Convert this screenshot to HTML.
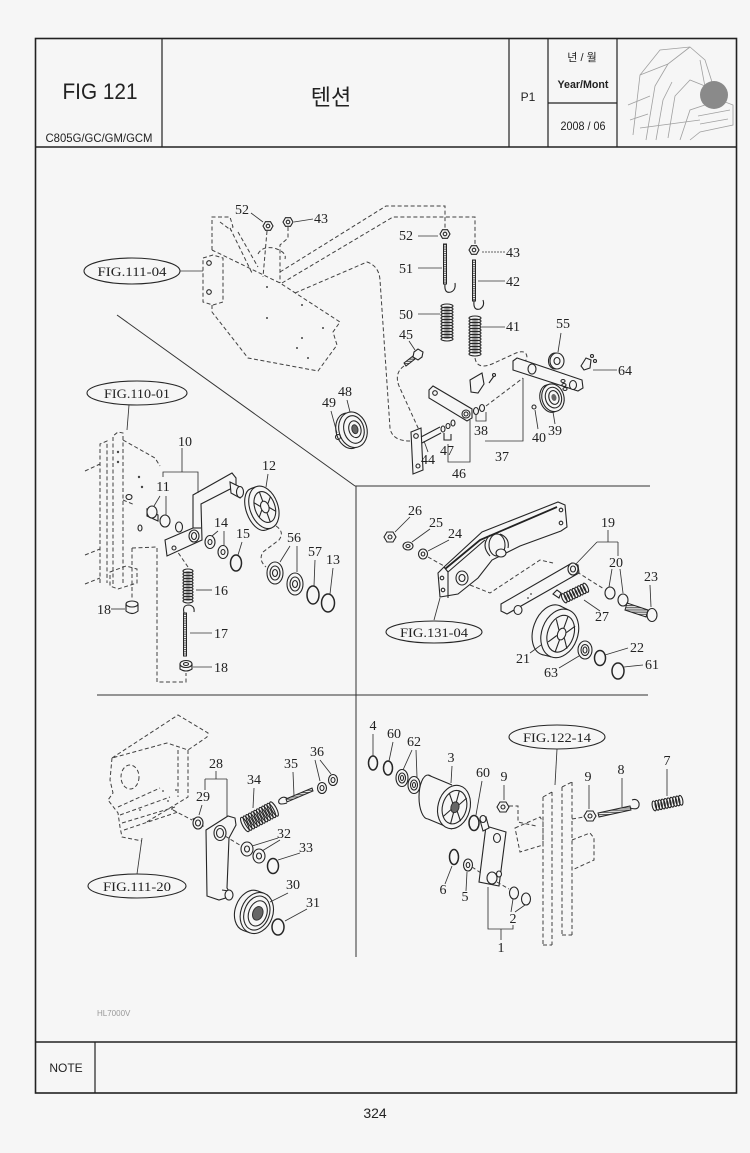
<!DOCTYPE html>
<html><head><meta charset="utf-8">
<style>
html,body{margin:0;padding:0;background:#f6f6f6;}
svg{display:block}
.s{fill:none;stroke:#262626;stroke-width:1.1}
.d{fill:none;stroke:#404040;stroke-width:1;stroke-dasharray:4 2.5}
.l{fill:none;stroke:#333;stroke-width:0.85}
.f{fill:#f6f6f6;stroke:#262626;stroke-width:1.1}
.r{fill:none;stroke:#262626;stroke-width:1.5}
.th{fill:url(#th);stroke:#262626;stroke-width:1}
.t{font-family:"Liberation Serif",serif;font-size:14px;fill:#222;text-anchor:middle}
.fg{font-family:"Liberation Serif",serif;font-size:13px;fill:#222;text-anchor:middle}
.h{font-family:"Liberation Sans","Noto Sans CJK KR",sans-serif;fill:#222;text-anchor:middle}
</style></head><body>
<svg width="750" height="1153" viewBox="0 0 750 1153" xmlns="http://www.w3.org/2000/svg">
<defs>
<pattern id="th" width="2.2" height="2.2" patternUnits="userSpaceOnUse"><rect width="2.2" height="2.2" fill="#f6f6f6"/><rect width="2.2" height="1.1" fill="#555"/></pattern>
</defs>
<rect x="0" y="0" width="750" height="1153" fill="#f6f6f6"/>

<!-- FRAME -->
<g stroke="#222" fill="none">
<rect x="35.5" y="38.5" width="701" height="1054.5" stroke-width="1.6"/>
<line x1="35" y1="147" x2="737" y2="147" stroke-width="1.4"/>
<line x1="162" y1="38" x2="162" y2="147" stroke-width="1.2"/>
<line x1="509" y1="38" x2="509" y2="147" stroke-width="1.2"/>
<line x1="548" y1="38" x2="548" y2="147" stroke-width="1.2"/>
<line x1="617" y1="38" x2="617" y2="147" stroke-width="1.2"/>
<line x1="548" y1="103" x2="617" y2="103" stroke-width="1.2"/>
<line x1="35" y1="1042" x2="737" y2="1042" stroke-width="1.4"/>
<line x1="95" y1="1042" x2="95" y2="1093" stroke-width="1.2"/>
</g>

<!-- HEADER TEXT -->
<text x="100" y="99" class="h" font-size="22" textLength="75" lengthAdjust="spacingAndGlyphs">FIG 121</text>
<text x="99" y="142" class="h" font-size="12" textLength="107" lengthAdjust="spacingAndGlyphs">C805G/GC/GM/GCM</text>
<text x="331" y="105" class="h" font-size="22">텐션</text>
<text x="528" y="101" class="h" font-size="12">P1</text>
<text x="582" y="61" class="h" font-size="11">년 / 월</text>
<text x="583" y="88" class="h" font-size="11" font-weight="bold" textLength="51" lengthAdjust="spacingAndGlyphs">Year/Mont</text>
<text x="583" y="130" class="h" font-size="12" textLength="45" lengthAdjust="spacingAndGlyphs">2008 / 06</text>
<text x="66" y="1072" class="h" font-size="12">NOTE</text>
<text x="375" y="1118" class="h" font-size="14">324</text>
<text x="97" y="1016" font-family="Liberation Sans,sans-serif" font-size="8" fill="#999">HL7000V</text>

<!-- thumbnail -->
<g stroke="#a0a0a0" stroke-width="0.8" fill="none">
<path d="M633,135 L640,75 L660,50 L690,47 L705,60 L712,82"/>
<path d="M640,75 L668,64 L690,47"/>
<path d="M646,140 L655,86 L668,64"/>
<path d="M656,140 L663,100 L672,82"/>
<path d="M668,138 L675,96 L690,80 L705,86"/>
<path d="M680,140 L690,110 L720,100 L733,105 L733,125 L700,132 L690,140"/>
<path d="M698,116 L730,110 M700,124 L728,119"/>
<path d="M628,105 L650,96 M630,120 L648,114"/>
<path d="M700,60 L706,92"/>
<path d="M640,128 L700,120"/>
</g>
<circle cx="714" cy="95" r="14" fill="#8a8a8a"/>

<!-- DIVIDERS -->
<g stroke="#333" stroke-width="1" fill="none">
<line x1="117" y1="315" x2="355" y2="486"/>
<line x1="355" y1="486" x2="650" y2="486"/>
<line x1="356" y1="486" x2="356" y2="957"/>
<line x1="97" y1="695" x2="648" y2="695"/>
</g>

<!-- ===== TOP SECTION ===== -->
<ellipse cx="132" cy="271" rx="48" ry="13" class="s"/>
<text x="132" y="276" class="fg" textLength="69" lengthAdjust="spacingAndGlyphs">FIG.111-04</text>
<path class="l" d="M180,271 L203,271"/>
<path class="d" d="M212,250 L212,217 L230,217 L233,227 L230,228"/>
<path class="d" d="M230,228 L252,273 M238,232 L258,267 M220,222 L232,231"/>
<path class="d" d="M203,258 L213,255 L223,258 L223,302 L213,305 L203,302 Z"/>
<circle cx="209" cy="263" r="2.3" class="s"/><circle cx="209" cy="292" r="2.3" class="s"/>
<path class="d" d="M212,305 L212,312 L248,358 L318,371 L337,345 L333,332 L340,322 L280,283 L212,250"/>
<path class="d" d="M258,254 Q262,246 274,248 Q287,252 285,259"/>
<g fill="#444"><circle cx="267" cy="287" r="1"/><circle cx="302" cy="305" r="1"/><circle cx="267" cy="318" r="1"/><circle cx="323" cy="328" r="1"/><circle cx="302" cy="338" r="1"/><circle cx="297" cy="348" r="1"/><circle cx="308" cy="358" r="1"/></g>
<polygon class="f" points="263,226 265.5,221.7 270.5,221.7 273,226 270.5,230.3 265.5,230.3"/><circle cx="268" cy="226" r="1.8" class="s"/>
<path class="d" d="M267,231 L263,277"/>
<polygon class="f" points="283,222 285.5,217.7 290.5,217.7 293,222 290.5,226.3 285.5,226.3"/><circle cx="288" cy="222" r="1.8" class="s"/>
<path class="d" d="M288,227 L288,238 L280,245 L280,283"/>
<path class="l" d="M251,213 L263,222 M313,219 L294,222"/>
<text x="242" y="214" class="t">52</text>
<text x="321" y="223" class="t">43</text>
<path class="d" d="M280,272 L386,206 L445,206 L445,228"/>
<path class="d" d="M282,283 L393,217 L475,217 L475,244"/>
<path class="d" d="M295,293 L367,262 Q379,266 380,280 L390,428 Q392,441 410,441"/>
<polygon class="f" points="440,234 442.5,229.7 447.5,229.7 450,234 447.5,238.3 442.5,238.3"/><circle cx="445" cy="234" r="1.8" class="s"/>
<path class="l" d="M418,236 L438,236"/><text x="406" y="240" class="t">52</text>
<rect x="443.5" y="244" width="3" height="40" class="th"/>
<path class="s" d="M445,284 Q444,294 451,292 Q456,290 455,283"/>
<path class="l" d="M418,268 L442,268"/><text x="406" y="273" class="t">51</text>
<g class="s">
<ellipse cx="447" cy="306" rx="6" ry="2"/><ellipse cx="447" cy="309" rx="6" ry="2"/><ellipse cx="447" cy="312" rx="6" ry="2"/><ellipse cx="447" cy="315" rx="6" ry="2"/><ellipse cx="447" cy="318" rx="6" ry="2"/><ellipse cx="447" cy="321" rx="6" ry="2"/><ellipse cx="447" cy="324" rx="6" ry="2"/><ellipse cx="447" cy="327" rx="6" ry="2"/><ellipse cx="447" cy="330" rx="6" ry="2"/><ellipse cx="447" cy="333" rx="6" ry="2"/><ellipse cx="447" cy="336" rx="6" ry="2"/><ellipse cx="447" cy="339" rx="6" ry="2"/>
</g>
<path class="l" d="M418,314 L440,314"/><text x="406" y="319" class="t">50</text>
<polygon class="f" points="469,250 471.5,245.7 476.5,245.7 479,250 476.5,254.3 471.5,254.3"/><circle cx="474" cy="250" r="1.8" class="s"/>
<path class="l" d="M482,252 L505,252" stroke-dasharray="2 1"/><text x="513" y="257" class="t">43</text>
<rect x="472.5" y="260" width="3" height="41" class="th"/>
<path class="s" d="M474,301 Q473,311 480,309 Q485,306 483,300"/>
<path class="l" d="M478,281 L505,281"/><text x="513" y="286" class="t">42</text>
<g class="s">
<ellipse cx="475" cy="318" rx="6" ry="2"/><ellipse cx="475" cy="321" rx="6" ry="2"/><ellipse cx="475" cy="324" rx="6" ry="2"/><ellipse cx="475" cy="327" rx="6" ry="2"/><ellipse cx="475" cy="330" rx="6" ry="2"/><ellipse cx="475" cy="333" rx="6" ry="2"/><ellipse cx="475" cy="336" rx="6" ry="2"/><ellipse cx="475" cy="339" rx="6" ry="2"/><ellipse cx="475" cy="342" rx="6" ry="2"/><ellipse cx="475" cy="345" rx="6" ry="2"/><ellipse cx="475" cy="348" rx="6" ry="2"/><ellipse cx="475" cy="351" rx="6" ry="2"/><ellipse cx="475" cy="354" rx="6" ry="2"/>
</g>
<path class="l" d="M482,327 L505,327"/><text x="513" y="331" class="t">41</text>
<path class="d" d="M475,358 Q477,370 492,364 L516,353 Q527,349 527,358 L523,366"/>
<polygon class="th" points="404,363 413,356 415,359 406,366"/>
<polygon class="f" points="414,352 418,349 423,352 422,357 418,360 413,357"/>
<path class="l" d="M409,341 L415,350"/><text x="406" y="339" class="t">45</text>
<path class="d" d="M404,366 Q394,373 399,386 L419,430"/>
<g transform="translate(352,430) rotate(-15)">
<ellipse cx="-3" cy="0" rx="13" ry="18" class="f"/>
<ellipse cx="1" cy="0" rx="14" ry="18" class="f"/>
<ellipse cx="2" cy="0" rx="10" ry="14" class="s"/>
<ellipse cx="3" cy="0" rx="6" ry="8.5" class="s"/>
<ellipse cx="3" cy="0" rx="3" ry="4.5" fill="#666" stroke="#333"/>
</g>
<circle cx="338" cy="437" r="2.5" class="s"/>
<path class="l" d="M347,400 L350,412 M331,411 L337,433"/>
<text x="345" y="396" class="t">48</text><text x="329" y="407" class="t">49</text>
<polygon class="f" points="411,432 421,428 423,470 413,474"/>
<circle cx="416" cy="436" r="2.3" class="s"/><circle cx="418" cy="466" r="2" class="s"/>
<path class="s" d="M421,437 L440,427 M422,443 L441,433"/>
<ellipse cx="443" cy="429" rx="2" ry="3" class="f"/><ellipse cx="448" cy="426" rx="2" ry="2.5" class="f"/><ellipse cx="453" cy="423" rx="2" ry="3" class="f"/>
<path class="s" d="M444,433 L444,440 L451,440 L451,434"/>
<path class="l" d="M424,441 L428,452"/><text x="428" y="464" class="t">44</text>
<text x="447" y="455" class="t">47</text>
<path class="l" d="M448,444 L448,462 L470,462 L470,420"/><text x="459" y="478" class="t">46</text>
<polygon class="f" points="429,390 433,386 472,409 472,418 467,421 429,398"/>
<circle cx="435" cy="393" r="2.3" class="s"/><circle cx="466" cy="414" r="4" class="f"/><circle cx="466" cy="414" r="2" class="s"/>
<ellipse cx="476" cy="411" rx="2.5" ry="3.5" class="f"/><ellipse cx="482" cy="408" rx="2.5" ry="3.5" class="f"/>
<path class="l" d="M476,415 L476,421 L486,421 L486,412"/><text x="481" y="435" class="t">38</text>
<path class="d" d="M486,406 L523,378"/>
<polygon class="f" points="470,380 482,373 484,384 478,393 471,392"/>
<path class="s" d="M489,383 L494,376"/><circle cx="494" cy="375" r="1.5" class="s"/>
<polygon class="f" points="513,361 517,358 582,380 583,388 578,391 513,370"/>
<ellipse cx="532" cy="369" rx="4" ry="5" class="f"/><ellipse cx="573" cy="385" rx="3.5" ry="4.5" class="f"/>
<ellipse cx="563" cy="381" rx="2" ry="1.5" class="s"/><ellipse cx="564" cy="385" rx="2" ry="1.5" class="s"/><ellipse cx="565" cy="389" rx="2" ry="1.5" class="s"/>
<path class="l" d="M523,378 L523,441 L485,441"/><text x="502" y="461" class="t">37</text>
<ellipse cx="555" cy="361" rx="6.5" ry="8" class="f"/><ellipse cx="557" cy="361" rx="7" ry="8" class="f"/><ellipse cx="557" cy="361" rx="3" ry="3.5" class="s"/>
<path class="l" d="M561,333 L558,352"/><text x="563" y="328" class="t">55</text>
<path class="f" d="M581,366 L586,358 L591,360 L590,368 L584,370 Z"/><circle cx="592" cy="356" r="1.5" class="s"/><circle cx="595" cy="361" r="1.5" class="s"/>
<path class="l" d="M593,370 L617,370"/><text x="625" y="375" class="t">64</text>
<g transform="translate(552,398) rotate(-15)">
<ellipse cx="-2" cy="0" rx="10" ry="14" class="f"/>
<ellipse cx="1" cy="0" rx="11" ry="14" class="f"/>
<ellipse cx="1.5" cy="0" rx="8" ry="10.5" class="s"/>
<ellipse cx="2" cy="0" rx="5" ry="7" class="s"/>
<ellipse cx="2" cy="0" rx="2.5" ry="3.5" fill="#666"/>
</g>
<path class="l" d="M555,424 L553,412"/><text x="555" y="435" class="t">39</text>
<circle cx="534" cy="407" r="2" class="s"/>
<path class="l" d="M538,429 L535,410"/><text x="539" y="442" class="t">40</text>

<!-- ===== LEFT MIDDLE ===== -->
<ellipse cx="137" cy="393" rx="50" ry="12" class="s"/>
<text x="137" y="398" class="fg" textLength="66" lengthAdjust="spacingAndGlyphs">FIG.110-01</text>
<path class="l" d="M129,405 L127,430"/>
<path class="d" d="M100,583 L100,444 L107,441 L107,583 M113,584 L113,436 L118,432 L123,433 L123,583"/>
<path class="d" d="M123,440 L155,458 L160,466 M85,471 L100,464 M85,555 L100,549 M85,584 L100,578 M123,500 L135,505"/>
<g fill="#444"><circle cx="118" cy="452" r="1.2"/><circle cx="118" cy="462" r="1.2"/><circle cx="139" cy="477" r="1.2"/><circle cx="142" cy="487" r="1.2"/></g>
<ellipse cx="129" cy="497" rx="3" ry="2.5" class="s"/><ellipse cx="140" cy="528" rx="2" ry="3" class="s"/>
<path class="d" d="M110,572 L126,566 L137,569 L137,583 L118,589 L110,586 Z"/>
<path class="d" d="M132,548 L132,600 M132,548 L157,547 L157,682 L186,682 L186,673"/>
<ellipse cx="132" cy="604" rx="6" ry="3" class="f"/>
<path class="s" d="M126,604 L126,611 Q132,616 138,611 L138,604"/>
<path class="l" d="M111,609 L125,609"/><text x="104" y="614" class="t">18</text>
<polygon class="f" points="165,540 193,528 193,495 232,473 236,478 236,486 201,504 202,540 167,556"/>
<path class="s" d="M193,528 L201,528"/>
<ellipse cx="194" cy="536" rx="5" ry="6" class="f"/><ellipse cx="194" cy="536" rx="2.5" ry="3.5" class="s"/>
<circle cx="174" cy="548" r="2" class="s"/>
<path class="f" d="M230,482 L240,487 L240,498 L231,493 Z"/>
<ellipse cx="240" cy="492" rx="3.5" ry="5.5" class="f"/>
<ellipse cx="179" cy="527" rx="3.5" ry="5" class="f"/>
<path class="s" d="M147,509 L158,515 L158,521 L147,516 Z"/>
<ellipse cx="152" cy="512" rx="5" ry="6" class="f"/>
<ellipse cx="165" cy="521" rx="5" ry="6" class="f"/>
<path class="l" d="M163,477 L163,472 L198,472 L198,493 M182,448 L182,472"/>
<text x="185" y="446" class="t">10</text>
<path class="l" d="M160,496 L154,506 M166,496 L166,515"/><text x="163" y="491" class="t">11</text>
<g transform="translate(262,508) rotate(-20)">
<ellipse cx="-4" cy="0" rx="12" ry="22" class="f"/>
<path d="M-4,-22 L2,-22 L2,22 L-4,22 Z" fill="#f6f6f6"/>
<path class="s" d="M-4,-22 L2,-22 M-4,22 L2,22"/>
<ellipse cx="2" cy="0" rx="14" ry="22" class="f"/>
<ellipse cx="3" cy="0" rx="10" ry="16" class="s"/>
<ellipse cx="3" cy="0" rx="4" ry="6" class="s"/>
<path class="s" d="M3,-6 L3,-16 M3,6 L3,16 M7,-2 L12,-8 M7,2 L12,8 M-1,-2 L-6,-8 M-1,2 L-6,8"/>
</g>
<path class="l" d="M268,474 L266,487"/><text x="269" y="470" class="t">12</text>
<ellipse cx="210" cy="542" rx="5" ry="6.5" class="f"/><ellipse cx="210" cy="542" rx="2" ry="2.5" class="s"/>
<ellipse cx="223" cy="552" rx="5" ry="6.5" class="f"/><ellipse cx="223" cy="552" rx="2" ry="2.5" class="s"/>
<path class="l" d="M218,531 L212,536 M224,531 L224,545"/><text x="221" y="527" class="t">14</text>
<ellipse cx="236" cy="563" rx="5.5" ry="8" class="r"/>
<path class="l" d="M242,542 L238,555"/><text x="243" y="538" class="t">15</text>
<path class="d" d="M276,526 Q285,532 279,540 L263,552 Q258,560 266,567"/>
<ellipse cx="275" cy="573" rx="8" ry="11" class="f"/><ellipse cx="275" cy="573" rx="5" ry="7" class="s"/><ellipse cx="275" cy="573" rx="2.5" ry="3.5" class="s"/>
<ellipse cx="295" cy="584" rx="8" ry="11" class="f"/><ellipse cx="295" cy="584" rx="5" ry="7" class="s"/><ellipse cx="295" cy="584" rx="2.5" ry="3.5" class="s"/>
<path class="l" d="M290,546 L280,562 M297,546 L297,572"/><text x="294" y="542" class="t">56</text>
<ellipse cx="313" cy="595" rx="6" ry="9" class="r"/>
<path class="l" d="M315,560 L314,586"/><text x="315" y="556" class="t">57</text>
<ellipse cx="328" cy="603" rx="6.5" ry="9" class="r"/>
<path class="l" d="M333,568 L330,594"/><text x="333" y="564" class="t">13</text>
<path class="d" d="M188,567 L177,551"/>
<g class="s">
<ellipse cx="188" cy="571" rx="5" ry="2"/><ellipse cx="188" cy="574" rx="5" ry="2"/><ellipse cx="188" cy="577" rx="5" ry="2"/><ellipse cx="188" cy="580" rx="5" ry="2"/><ellipse cx="188" cy="583" rx="5" ry="2"/><ellipse cx="188" cy="586" rx="5" ry="2"/><ellipse cx="188" cy="589" rx="5" ry="2"/><ellipse cx="188" cy="592" rx="5" ry="2"/><ellipse cx="188" cy="595" rx="5" ry="2"/><ellipse cx="188" cy="598" rx="5" ry="2"/><ellipse cx="188" cy="601" rx="5" ry="2"/>
</g>
<path class="l" d="M196,590 L212,590"/><text x="221" y="595" class="t">16</text>
<path class="s" d="M184,613 Q182,605 189,605 Q195,606 194,612"/>
<rect x="183.5" y="613" width="3" height="43" class="th"/>
<path class="l" d="M190,633 L212,633"/><text x="221" y="638" class="t">17</text>
<ellipse cx="186" cy="664" rx="6" ry="3.5" class="f"/>
<path class="s" d="M180,664 L180,669 Q186,673 192,669 L192,664"/><ellipse cx="186" cy="664" rx="2.5" ry="1.5" class="s"/>
<path class="l" d="M193,667 L212,667"/><text x="221" y="672" class="t">18</text>

<!-- ===== RIGHT MIDDLE ===== -->
<polygon class="f" points="384,537 387,532 393,532 396,537 393,542 387,542"/><circle cx="390" cy="537" r="2" class="s"/>
<path class="l" d="M410,517 L395,532"/><text x="415" y="515" class="t">26</text>
<ellipse cx="408" cy="546" rx="5" ry="4" class="f"/><ellipse cx="408" cy="546" rx="2" ry="1.5" class="s"/>
<path class="l" d="M430,529 L412,542"/><text x="436" y="527" class="t">25</text>
<ellipse cx="423" cy="554" rx="4.5" ry="5" class="f"/><ellipse cx="423" cy="554" rx="1.8" ry="2" class="s"/>
<path class="l" d="M449,540 L428,551"/><text x="455" y="538" class="t">24</text>
<path class="d" d="M428,557 L444,566"/>
<path class="f" d="M438,573 L444,567 L482,532 L558,502 L565,505 L567,527 L561,531 L520,546 L492,560 L478,578 L458,594 L440,597 Z"/>
<path stroke="#222" stroke-width="1.8" fill="none" d="M445,569 L480,540 L557,507"/>
<path class="s" d="M444,567 L448,572 L448,598 M448,572 L485,540"/>
<circle cx="442" cy="578" r="1.8" class="s"/><circle cx="443" cy="590" r="1.8" class="s"/>
<ellipse cx="462" cy="578" rx="6" ry="7" class="f"/><ellipse cx="462" cy="578" rx="3" ry="3.5" class="s"/>
<ellipse cx="497" cy="545" rx="8" ry="11" class="f"/>
<path class="s" d="M490,535 Q480,545 490,556 M500,534 Q510,538 508,548"/><ellipse cx="501" cy="553" rx="5" ry="4" class="f"/>
<circle cx="561" cy="510" r="1.8" class="s"/><circle cx="561" cy="523" r="1.8" class="s"/>
<path class="l" d="M440,598 L434,620"/>
<ellipse cx="434" cy="632" rx="48" ry="11" class="s"/>
<text x="434" y="637" class="fg" textLength="68" lengthAdjust="spacingAndGlyphs">FIG.131-04</text>
<path class="d" d="M470,585 L490,593 L540,560 L553,563"/>
<polygon class="f" points="501,604 572,563 578,565 579,573 507,614 501,611"/>
<ellipse cx="573" cy="569" rx="5" ry="6" class="f"/><ellipse cx="573" cy="569" rx="2.5" ry="3" class="s"/>
<ellipse cx="518" cy="610" rx="4" ry="4.5" class="f"/>
<path class="f" d="M553,594 L557,590 L561,593 L559,598 Z"/>
<g fill="#444"><circle cx="528" cy="598" r="0.9"/><circle cx="531" cy="594" r="0.9"/></g>
<path class="l" d="M608,530 L608,542 M597,542 L618,542 M597,542 L575,565 M618,542 L618,556"/>
<text x="608" y="527" class="t">19</text>
<path class="l" d="M612,569 L609,587 M620,569 L623,593"/><text x="616" y="567" class="t">20</text>
<path class="d" d="M577,572 L604,589"/>
<ellipse cx="610" cy="593" rx="5" ry="6" class="f"/><ellipse cx="623" cy="600" rx="5" ry="6" class="f"/>
<polygon class="th" points="627,603 648,610 646,617 625,610"/>
<ellipse cx="652" cy="615" rx="5" ry="6.5" class="f"/>
<path class="l" d="M650,585 L651,607"/><text x="651" y="581" class="t">23</text>
<g transform="translate(575,593) rotate(-26)" class="s">
<ellipse cx="-12" cy="0" rx="2" ry="5"/><ellipse cx="-9" cy="0" rx="2" ry="5"/><ellipse cx="-6" cy="0" rx="2" ry="5"/><ellipse cx="-3" cy="0" rx="2" ry="5"/><ellipse cx="0" cy="0" rx="2" ry="5"/><ellipse cx="3" cy="0" rx="2" ry="5"/><ellipse cx="6" cy="0" rx="2" ry="5"/><ellipse cx="9" cy="0" rx="2" ry="5"/><ellipse cx="12" cy="0" rx="2" ry="5"/>
</g>
<path class="l" d="M600,611 L584,600"/><text x="602" y="621" class="t">27</text>
<g transform="translate(556,632) rotate(20)">
<ellipse cx="-6" cy="0" rx="17" ry="26" class="f"/>
<path d="M-6,-26 L4,-25 L4,25 L-6,26 Z" fill="#f6f6f6"/>
<path class="s" d="M-6,-26 L4,-25 M-6,26 L4,25"/>
<ellipse cx="4" cy="0" rx="18" ry="25" class="f"/>
<ellipse cx="5" cy="0" rx="13" ry="19" class="s"/>
<ellipse cx="6" cy="0" rx="4" ry="6" class="s"/>
<path class="s" d="M6,-6 L6,-19 M6,6 L6,19 M10,-3 L16,-12 M10,3 L16,12 M2,-3 L-4,-12 M2,3 L-4,12"/>
</g>
<path class="l" d="M530,653 L541,645"/><text x="523" y="663" class="t">21</text>
<ellipse cx="585" cy="650" rx="7" ry="9" class="f"/><ellipse cx="585" cy="650" rx="4" ry="5.5" class="s"/><ellipse cx="585" cy="650" rx="2" ry="3" class="s"/>
<path class="l" d="M559,668 L579,656"/><text x="551" y="677" class="t">63</text>
<ellipse cx="600" cy="658" rx="5.5" ry="7.5" class="r"/>
<path class="l" d="M628,648 L605,655"/><text x="637" y="652" class="t">22</text>
<ellipse cx="618" cy="671" rx="6" ry="8" class="r"/>
<path class="l" d="M643,665 L624,667"/><text x="652" y="669" class="t">61</text>

<!-- ===== BOTTOM LEFT ===== -->
<path class="d" d="M112,758 L178,715 L208,733 L207,737 L188,750 L167,743 L112,758"/>
<path class="d" d="M178,750 L178,797 M188,750 L188,797 L145,823"/>
<path class="d" d="M112,758 L110,780 L113,793 L108,800 L118,813 L120,827 L122,837 L142,841"/>
<ellipse cx="130" cy="777" rx="9" ry="12" class="d"/>
<path class="d" d="M118,807 L160,788 M120,815 L170,797 M122,823 L175,807 M124,830 L178,812"/>
<g fill="#444"><circle cx="163" cy="791" r="0.9"/><circle cx="168" cy="801" r="0.9"/><circle cx="172" cy="809" r="0.9"/><circle cx="140" cy="810" r="0.9"/><circle cx="176" cy="790" r="0.9"/></g>
<path class="l" d="M142,838 L137,874"/>
<ellipse cx="137" cy="886" rx="49" ry="12" class="s"/>
<text x="137" y="891" class="fg" textLength="68" lengthAdjust="spacingAndGlyphs">FIG.111-20</text>
<path class="d" d="M173,810 L192,820"/>
<path class="s" d="M193,819 L199,817 L203,826 L197,828 Z"/>
<ellipse cx="198" cy="823" rx="5" ry="6" class="f"/><ellipse cx="198" cy="823" rx="2.5" ry="3" class="s"/>
<path class="l" d="M202,805 L199,815"/><text x="203" y="801" class="t">29</text>
<path class="f" d="M206,830 L228,816 L235,818 L236,825 L229,838 L227,888 L232,896 L219,900 L207,896 Z"/>
<ellipse cx="220" cy="833" rx="6" ry="7.5" class="f"/><ellipse cx="220" cy="833" rx="3.5" ry="4.5" class="s"/>
<path class="s" d="M222,890 L229,891"/><ellipse cx="229" cy="895" rx="4" ry="5" class="f"/>
<path class="l" d="M216,771 L216,779 M205,779 L227,779 M205,779 L205,790 M227,779 L227,817"/>
<text x="216" y="768" class="t">28</text>
<path class="d" d="M225,836 L243,847"/>
<g transform="translate(259,817) rotate(-28)" class="s">
<ellipse cx="-16" cy="0" rx="2.5" ry="8"/><ellipse cx="-13" cy="0" rx="2.5" ry="8"/><ellipse cx="-10" cy="0" rx="2.5" ry="8"/><ellipse cx="-7" cy="0" rx="2.5" ry="8"/><ellipse cx="-4" cy="0" rx="2.5" ry="8"/><ellipse cx="-1" cy="0" rx="2.5" ry="8"/><ellipse cx="2" cy="0" rx="2.5" ry="8"/><ellipse cx="5" cy="0" rx="2.5" ry="8"/><ellipse cx="8" cy="0" rx="2.5" ry="8"/><ellipse cx="11" cy="0" rx="2.5" ry="8"/><ellipse cx="14" cy="0" rx="2.5" ry="8"/><ellipse cx="17" cy="0" rx="2.5" ry="8"/>
</g>
<path class="l" d="M254,788 L253,808"/><text x="254" y="784" class="t">34</text>
<path class="s" d="M287,803 Q277,806 279,800 Q283,795 288,799"/>
<polygon class="th" points="286,799 312,788 313,791 287,802"/>
<path class="l" d="M293,772 L294,796"/><text x="291" y="768" class="t">35</text>
<ellipse cx="322" cy="788" rx="4.5" ry="5.5" class="f"/><ellipse cx="322" cy="788" rx="2" ry="2.5" class="s"/>
<ellipse cx="333" cy="780" rx="4.5" ry="5.5" class="f"/><ellipse cx="333" cy="780" rx="2" ry="2.5" class="s"/>
<path class="l" d="M315,760 L320,781 M320,760 L331,774"/><text x="317" y="756" class="t">36</text>
<ellipse cx="247" cy="849" rx="6" ry="7" class="f"/><ellipse cx="247" cy="849" rx="2.5" ry="3" class="s"/>
<ellipse cx="259" cy="856" rx="6" ry="7" class="f"/><ellipse cx="259" cy="856" rx="2.5" ry="3" class="s"/>
<path class="l" d="M278,838 L252,846 M280,840 L262,851"/><text x="284" y="838" class="t">32</text>
<ellipse cx="273" cy="866" rx="5.5" ry="7.5" class="r"/>
<path class="l" d="M300,853 L278,860"/><text x="306" y="852" class="t">33</text>
<g transform="translate(254,912) rotate(20)">
<ellipse cx="-4" cy="0" rx="15" ry="21" class="f"/>
<path d="M-4,-21 L3,-21 L3,21 L-4,21 Z" fill="#f6f6f6"/>
<path class="s" d="M-4,-21 L3,-21 M-4,21 L3,21"/>
<ellipse cx="3" cy="0" rx="16" ry="21" class="f"/>
<ellipse cx="3" cy="0" rx="12.5" ry="17.5" class="s"/>
<ellipse cx="4" cy="0" rx="9" ry="13" class="s"/>
<ellipse cx="4" cy="0" rx="5" ry="7" fill="#666" stroke="#333"/>
</g>
<path class="l" d="M288,893 L270,902"/><text x="293" y="889" class="t">30</text>
<ellipse cx="278" cy="927" rx="6" ry="8" class="r"/>
<path class="l" d="M307,909 L285,921"/><text x="313" y="907" class="t">31</text>

<!-- ===== BOTTOM RIGHT ===== -->
<ellipse cx="373" cy="763" rx="4.5" ry="7" class="r"/>
<path class="l" d="M373,734 L373,756"/><text x="373" y="730" class="t">4</text>
<ellipse cx="388" cy="768" rx="4.5" ry="7" class="r"/>
<path class="l" d="M393,742 L389,761"/><text x="394" y="738" class="t">60</text>
<ellipse cx="402" cy="778" rx="6" ry="8.5" class="f"/><ellipse cx="402" cy="778" rx="3.5" ry="5" class="s"/><ellipse cx="402" cy="778" rx="1.5" ry="2.5" class="s"/>
<ellipse cx="414" cy="785" rx="6" ry="8.5" class="f"/><ellipse cx="414" cy="785" rx="3.5" ry="5" class="s"/><ellipse cx="414" cy="785" rx="1.5" ry="2.5" class="s"/>
<path class="l" d="M412,750 L403,770 M416,750 L417,777"/><text x="414" y="746" class="t">62</text>
<ellipse cx="428" cy="797" rx="9" ry="22" class="f"/>
<path d="M428,775 L452,785 L452,829 L428,819 Z" fill="#f6f6f6"/>
<path class="s" d="M428,775 L452,785 M428,819 L452,829"/>
<g transform="translate(454,807) rotate(15)">
<ellipse cx="0" cy="0" rx="16" ry="22" class="f"/>
<ellipse cx="0.5" cy="0" rx="12" ry="17" class="s"/>
<ellipse cx="1" cy="0" rx="4" ry="5.5" fill="#666" stroke="#333"/>
<path class="s" d="M1,-5 L1,-17 M1,5 L1,17 M4,-3 L10,-12 M4,3 L10,12 M-2,-3 L-8,-12 M-2,3 L-8,12"/>
</g>
<path class="l" d="M452,766 L451,783"/><text x="451" y="762" class="t">3</text>
<ellipse cx="474" cy="823" rx="5" ry="7.5" class="r"/>
<path class="l" d="M482,781 L476,815"/><text x="483" y="777" class="t">60</text>
<polygon class="f" points="497,807 500,802 506,802 509,807 506,812 500,812"/><circle cx="503" cy="807" r="2" class="s"/>
<path class="l" d="M504,785 L504,800"/><text x="504" y="781" class="t">9</text>
<path class="d" d="M509,806 L518,806 L518,822 L536,826"/>
<path class="f" d="M486,826 L506,832 L499,886 L479,882 Z"/>
<ellipse cx="497" cy="838" rx="3.5" ry="4.5" class="s"/>
<path class="f" d="M480,820 L486,817 L489,828 L483,831 Z"/><ellipse cx="483" cy="819" rx="3" ry="3.5" class="f"/>
<ellipse cx="492" cy="878" rx="5" ry="6" class="f"/><ellipse cx="499" cy="874" rx="2.5" ry="3" class="f"/>
<ellipse cx="454" cy="857" rx="4.5" ry="7.5" class="r"/>
<path class="l" d="M445,884 L452,866"/><text x="443" y="894" class="t">6</text>
<ellipse cx="468" cy="865" rx="4.5" ry="6" class="f"/><ellipse cx="468" cy="865" rx="1.8" ry="2.5" class="s"/>
<path class="l" d="M466,891 L467,872"/><text x="465" y="901" class="t">5</text>
<path class="d" d="M472,867 L481,873 M497,882 L509,889"/>
<ellipse cx="514" cy="893" rx="4.5" ry="6" class="f"/><ellipse cx="526" cy="899" rx="4.5" ry="6" class="f"/>
<path class="l" d="M511,912 L513,899 M515,912 L525,905"/><text x="513" y="923" class="t">2</text>
<path class="l" d="M488,887 L488,929 L513,929 L513,925 M501,929 L501,940"/><text x="501" y="952" class="t">1</text>
<path class="d" d="M543,797 L543,945 M552,792 L552,945 M562,787 L562,935 M572,782 L572,935 M543,797 L552,792 M562,787 L572,782 M543,945 L552,945 M562,935 L572,935"/>
<path class="d" d="M515,828 L540,817 L543,822 L543,845 L520,852 Z"/>
<path class="d" d="M572,840 L590,833 L594,838 L594,860 L572,870"/>
<path class="l" d="M557,749 L555,785"/>
<ellipse cx="557" cy="737" rx="48" ry="12" class="s"/>
<text x="557" y="742" class="fg" textLength="68" lengthAdjust="spacingAndGlyphs">FIG.122-14</text>
<path class="d" d="M572,819 L584,817"/>
<polygon class="f" points="584,816 587,811 593,811 596,816 593,821 587,821"/><circle cx="590" cy="816" r="2" class="s"/>
<path class="l" d="M589,785 L589,809"/><text x="588" y="781" class="t">9</text>
<polygon class="th" points="598,813 630,806 631,810 599,817"/>
<path class="s" d="M630,808 Q640,811 639,803 Q637,798 632,800"/>
<path class="l" d="M622,778 L622,807"/><text x="621" y="774" class="t">8</text>
<g transform="translate(668,803) rotate(-12)" class="s">
<ellipse cx="-14" cy="0" rx="2" ry="5"/><ellipse cx="-11" cy="0" rx="2" ry="5"/><ellipse cx="-8" cy="0" rx="2" ry="5"/><ellipse cx="-5" cy="0" rx="2" ry="5"/><ellipse cx="-2" cy="0" rx="2" ry="5"/><ellipse cx="1" cy="0" rx="2" ry="5"/><ellipse cx="4" cy="0" rx="2" ry="5"/><ellipse cx="7" cy="0" rx="2" ry="5"/><ellipse cx="10" cy="0" rx="2" ry="5"/><ellipse cx="13" cy="0" rx="2" ry="5"/>
</g>
<path class="l" d="M667,769 L667,796"/><text x="667" y="765" class="t">7</text>
</svg>
</body></html>
